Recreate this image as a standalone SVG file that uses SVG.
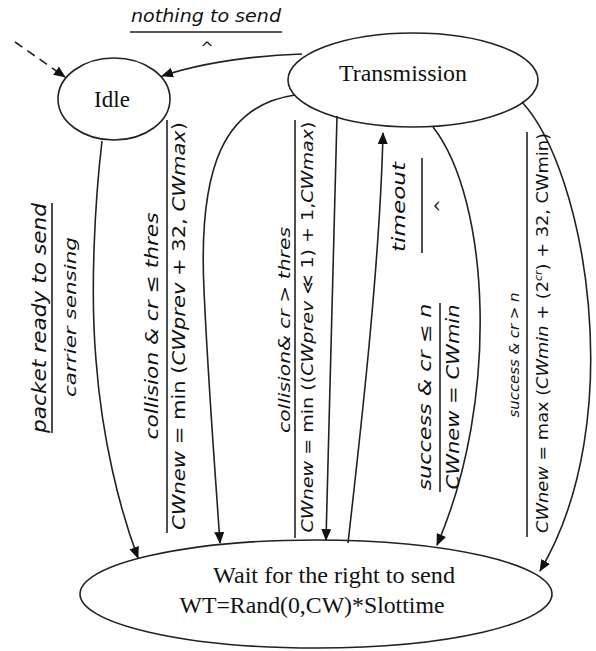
<svg xmlns="http://www.w3.org/2000/svg" width="596" height="651" viewBox="0 0 596 651">
<defs>
<marker id="ah" viewBox="0 0 12 10" refX="11" refY="5" markerWidth="12" markerHeight="10" markerUnits="userSpaceOnUse" orient="auto">
<path d="M0,0 L12,5 L0,10 Z" fill="#111"/>
</marker>
</defs>
<style>
.node{fill:#fff;stroke:#222;stroke-width:1.6}
.lbl{font-family:"Liberation Serif","Times New Roman",serif;font-size:23px;fill:#111;text-anchor:middle}
.edge{fill:none;stroke:#222;stroke-width:1.6;marker-end:url(#ah)}
.bar{stroke:#222;stroke-width:1.6}
.it{font-family:"DejaVu Sans",sans-serif;font-style:italic;fill:#111;text-anchor:middle}
.eq{font-family:"DejaVu Sans",sans-serif;fill:#111;text-anchor:middle}
.up{font-style:normal}
</style>
<rect width="596" height="651" fill="#fff"/>
<g id="idle">
<ellipse class="node" cx="114" cy="99" rx="56" ry="41"/>
<text class="lbl" x="112" y="107" font-size="22">Idle</text>
</g>
<g id="transmission">
<ellipse class="node" cx="413" cy="80" rx="125" ry="47"/>
<text class="lbl" x="403" y="81" textLength="128" lengthAdjust="spacingAndGlyphs">Transmission</text>
</g>
<g id="wait">
<ellipse class="node" cx="316" cy="594" rx="236" ry="54"/>
<text class="lbl" x="334" y="583" textLength="242" lengthAdjust="spacingAndGlyphs">Wait for the right to send</text>
<text class="lbl" x="312" y="613" textLength="265" lengthAdjust="spacingAndGlyphs">WT=Rand(0,CW)*Slottime</text>
</g>
<g id="connectors">
<path class="edge" d="M15,42 L65,77" stroke-dasharray="9,6"/>
<path class="edge" d="M302,54 Q220,57 162,76"/>
<path class="edge" d="M102,141 C95,200 90,290 96,360 C102,440 120,510 138,558"/>
<path class="edge" d="M295,95 C225,105 198,165 204,290 C208,380 215,470 220,543"/>
<path class="edge" d="M337,116 L326,540"/>
<path class="edge" d="M348,543 C362,420 380,260 383,133"/>
<path class="edge" d="M433,127 C490,200 500,400 437,545"/>
<path class="edge" d="M522,102 C585,170 630,420 540,571"/>
</g>
<g id="label-nothing">
<text class="it" x="206" y="22" font-size="18" textLength="150" lengthAdjust="spacingAndGlyphs">nothing to send</text>
<line class="bar" x1="130" y1="32" x2="282" y2="32"/>
<text class="eq" x="207" y="53" font-size="16">^</text>
</g>
<g id="label-packet">
<text class="it" transform="translate(46,318) rotate(-90)" font-size="19" textLength="230" lengthAdjust="spacingAndGlyphs">packet ready to send</text>
<line class="bar" x1="52" y1="203" x2="52" y2="433"/>
<text class="it" transform="translate(76,317) rotate(-90)" font-size="15" textLength="160" lengthAdjust="spacingAndGlyphs">carrier sensing</text>
</g>
<g id="label-coll-le">
<text class="it" transform="translate(158,326) rotate(-90)" font-size="18" textLength="227" lengthAdjust="spacingAndGlyphs">collision &amp; cr ≤ thres</text>
<line class="bar" x1="167" y1="120" x2="167" y2="533"/>
<text class="eq" transform="translate(185,326) rotate(-90)" font-size="18" textLength="408" lengthAdjust="spacingAndGlyphs"><tspan font-style="italic">CWnew</tspan> = min (<tspan font-style="italic">CWprev</tspan> + 32, <tspan font-style="italic">CWmax</tspan>)</text>
</g>
<g id="label-coll-gt">
<text class="it" transform="translate(290,330) rotate(-90)" font-size="15" textLength="206" lengthAdjust="spacingAndGlyphs">collision&amp; cr &gt; thres</text>
<line class="bar" x1="295" y1="120" x2="295" y2="538"/>
<text class="eq" transform="translate(313,327) rotate(-90)" font-size="16" textLength="411" lengthAdjust="spacingAndGlyphs"><tspan font-style="italic">CWnew</tspan> = min ((<tspan font-style="italic">CWprev</tspan> ≪ 1) + 1,<tspan font-style="italic">CWmax</tspan>)</text>
</g>
<g id="label-timeout">
<text class="it" transform="translate(405,207) rotate(-90)" font-size="17" textLength="90" lengthAdjust="spacingAndGlyphs">timeout</text>
<line class="bar" x1="422" y1="158" x2="422" y2="253"/>
<text class="eq" transform="translate(446,206) rotate(-90)" font-size="16">^</text>
</g>
<g id="label-succ-le">
<text class="it" transform="translate(431,397) rotate(-90)" font-size="17" textLength="187" lengthAdjust="spacingAndGlyphs">success &amp; cr ≤ n</text>
<line class="bar" x1="440" y1="303" x2="440" y2="492"/>
<text class="it" transform="translate(459,397) rotate(-90)" font-size="18" textLength="185" lengthAdjust="spacingAndGlyphs">CWnew = CWmin</text>
</g>
<g id="label-succ-gt">
<text class="it" transform="translate(519,355) rotate(-90)" font-size="14" textLength="125" lengthAdjust="spacingAndGlyphs">success &amp; cr &gt; n</text>
<line class="bar" x1="527" y1="132" x2="527" y2="537"/>
<text class="eq" transform="translate(548,333) rotate(-90)" font-size="16" textLength="400" lengthAdjust="spacingAndGlyphs"><tspan font-style="italic">CWnew</tspan> = max (<tspan font-style="italic">CWmin</tspan> + (2<tspan font-size="10" dy="-6" font-style="italic">cr</tspan><tspan dy="6">) + 32, CWmin)</tspan></text>
</g>
</svg>
